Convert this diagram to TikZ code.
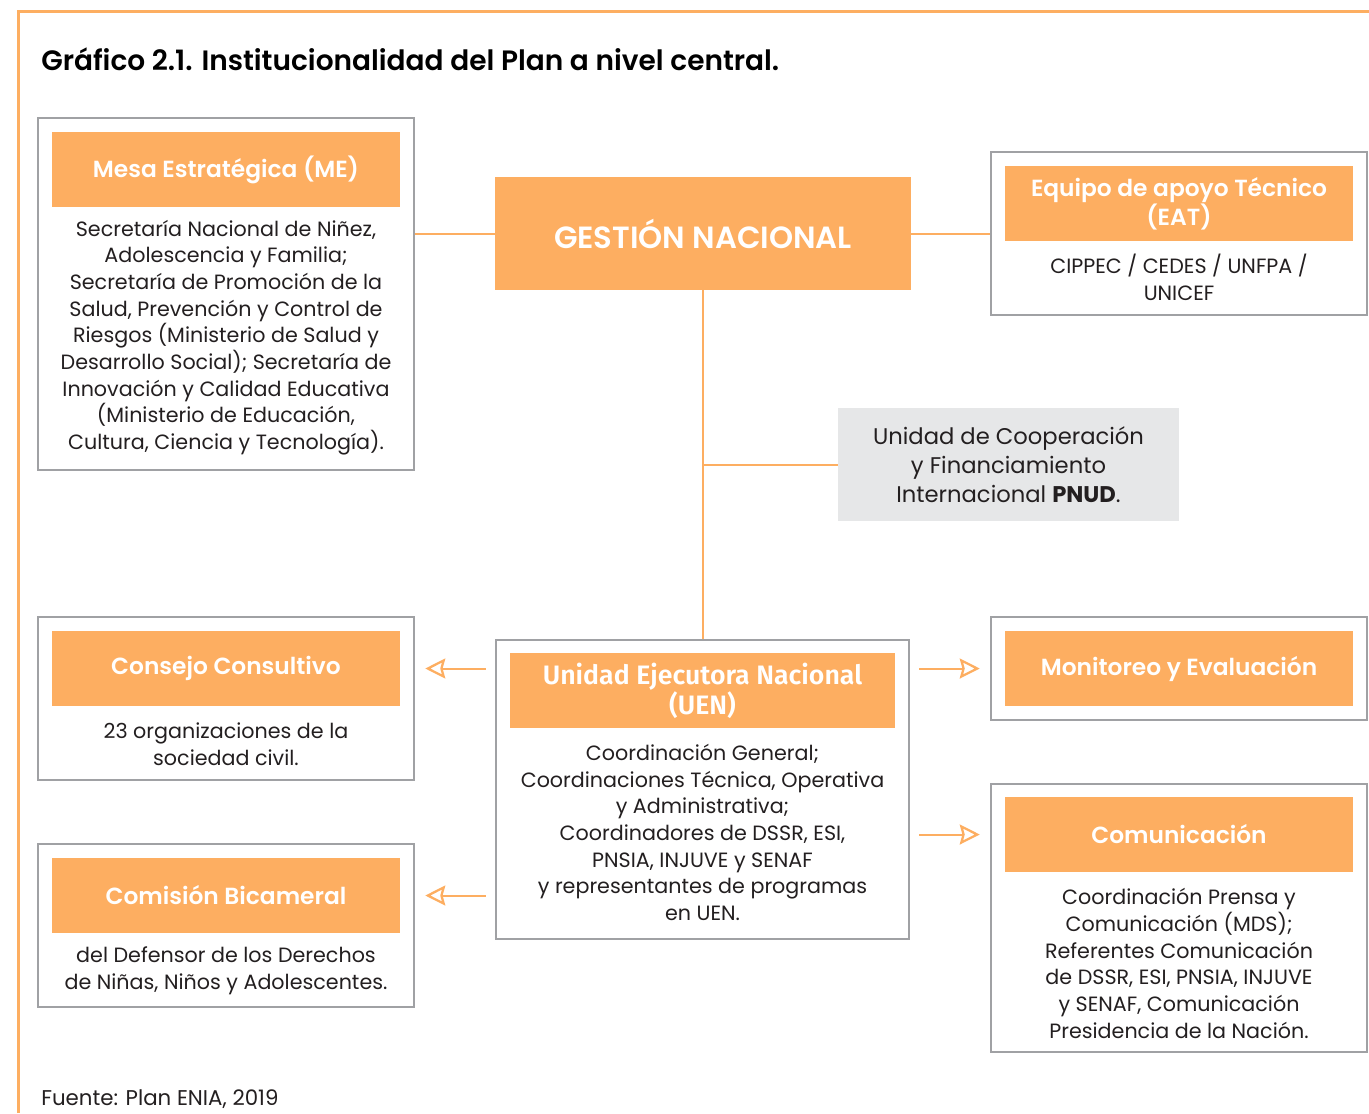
\documentclass[tikz,border=0pt]{standalone}
\usepackage{fontspec}
\setmainfont{Poppins}
\newfontfamily\semib{Poppins SemiBold}
\newfontfamily\uenf{Fira Sans SemiBold}
\usetikzlibrary{arrows.meta}
\definecolor{orng}{HTML}{FDAE61}
\definecolor{grayb}{HTML}{A0A1A4}
\definecolor{grayf}{HTML}{E6E7E8}
\definecolor{txt}{HTML}{231F20}
\begin{document}
\begin{tikzpicture}[x=0.75pt,y=-0.75pt,
  outer/.style={draw=grayb, line width=1.9pt, inner sep=0, fill=white},
  head/.style={fill=orng, inner sep=0, text=white, align=center,
    minimum width=261pt, minimum height=56.25pt, font=\semib\fontsize{17.5}{19.5}\selectfont},
  body/.style={text=txt, align=center, inner sep=0, font=\fontsize{15.5}{20}\selectfont},
  conn/.style={draw=orng, line width=1.5pt},
  arr/.style={conn, -{Stealth[open, length=15pt, width=15pt, inset=2pt, line width=1.7pt]}, shorten >=7.5pt, shorten <=6.75pt}
]
\useasboundingbox (0,0) rectangle (1369,1113);
\draw[orng, line width=2.25pt] (18,1113) -- (18,12) -- (1369,12);

\node[anchor=base west, inner sep=0, text=black, font=\semib\fontsize{21}{25}\selectfont] (title) at (41,70)
  {Gráfico 2.1. Institucionalidad del Plan a nivel central.};

% Mesa Estrategica
\node[outer, minimum width=282pt, minimum height=264pt] (me) at (226,294) {};
\node[head] (mehead) at (226,169.5) {Mesa Estratégica (ME)};
\node[body] (mebody) at (226,337.5) {Secretaría Nacional de Niñez,\\Adolescencia y Familia;\\Secretaría de Promoción de la\\Salud, Prevención y Control de\\Riesgos (Ministerio de Salud y\\Desarrollo Social); Secretaría de\\Innovación y Calidad Educativa\\(Ministerio de Educación,\\Cultura, Ciencia y Tecnología).};

% Gestion Nacional
\node[fill=orng, inner sep=0, minimum width=312pt, minimum height=84.75pt, text=white,
  font=\semib\fontsize{23}{27}\selectfont] (gn) at (703,233.5) {GESTIÓN NACIONAL};

% EAT
\node[outer, minimum width=282pt, minimum height=122.25pt] (eat) at (1179,233.5) {};
\node[head] (eathead) at (1179,203.5) {Equipo de apoyo Técnico\\(EAT)};
\node[body] (eatbody) at (1179,277.5) {CIPPEC / CEDES / UNFPA /\\UNICEF};

% Gray box
\node[fill=grayf, inner sep=0, minimum width=255.75pt, minimum height=84.75pt, text=txt, align=center,
  font=\fontsize{17}{21.75}\selectfont] (pnud) at (1008.5,464.5)
  {Unidad de Cooperación\\y Financiamiento\\Internacional \textbf{PNUD}.};

% UEN
\node[outer, minimum width=309.75pt, minimum height=224.25pt] (uen) at (702.5,789.5) {};
\node[head, minimum width=288.75pt, font=\uenf\fontsize{20}{19.5}\selectfont] (uenhead) at (702.5,690.5) {Unidad Ejecutora Nacional\\(UEN)};
\node[body] (uenbody) at (702.5,832.5) {Coordinación General;\\Coordinaciones Técnica, Operativa\\y Administrativa;\\Coordinadores de DSSR, ESI,\\PNSIA, INJUVE y SENAF\\y representantes de programas\\en UEN.};

% Consejo Consultivo
\node[outer, minimum width=282pt, minimum height=122.25pt] (cc) at (226,698.5) {};
\node[head] (cchead) at (226,668.5) {Consejo Consultivo};
\node[body] (ccbody) at (226,744) {23 organizaciones de la\\sociedad civil.};

% Comision Bicameral
\node[outer, minimum width=282pt, minimum height=122.25pt] (cb) at (226,925.5) {};
\node[head] (cbhead) at (226,895.5) {Comisión Bicameral};
\node[body] (cbbody) at (226,970.5) {del Defensor de los Derechos\\de Niñas, Niños y Adolescentes.};

% Monitoreo
\node[outer, minimum width=282pt, minimum height=77.25pt] (mon) at (1179,668.5) {};
\node[head] (monhead) at (1179,668.5) {Monitoreo y Evaluación};

% Comunicacion
\node[outer, minimum width=282pt, minimum height=201pt] (com) at (1179,918) {};
\node[head] (comhead) at (1179,834.5) {Comunicación};
\node[body] (combody) at (1179,963.5) {Coordinación Prensa y\\Comunicación (MDS);\\Referentes Comunicación\\de DSSR, ESI, PNSIA, INJUVE\\y SENAF, Comunicación\\Presidencia de la Nación.};

% connectors
\draw[conn] (gn.west) -- (me.east |- gn.west);
\draw[conn] (gn.east) -- (eat.west |- gn.east);
\draw[conn] (gn.south) -- (gn.south |- uen.north);
\coordinate (j) at (gn.south |- pnud.west);
\draw[conn] (pnud.west) -- (j);
\draw[arr] (uen.west |- cchead) -- (cc.east |- cchead);
\draw[arr] (uen.west |- cbhead) -- (cb.east |- cbhead);
\draw[arr] (uen.east |- monhead) -- (mon.west |- monhead);
\draw[arr] (uen.east |- comhead) -- (com.west |- comhead);

\node[anchor=base west, inner sep=0, text=txt, font=\fontsize{16}{19}\selectfont] (src) at (41,1105) {Fuente: Plan ENIA, 2019};
\end{tikzpicture}
\end{document}
